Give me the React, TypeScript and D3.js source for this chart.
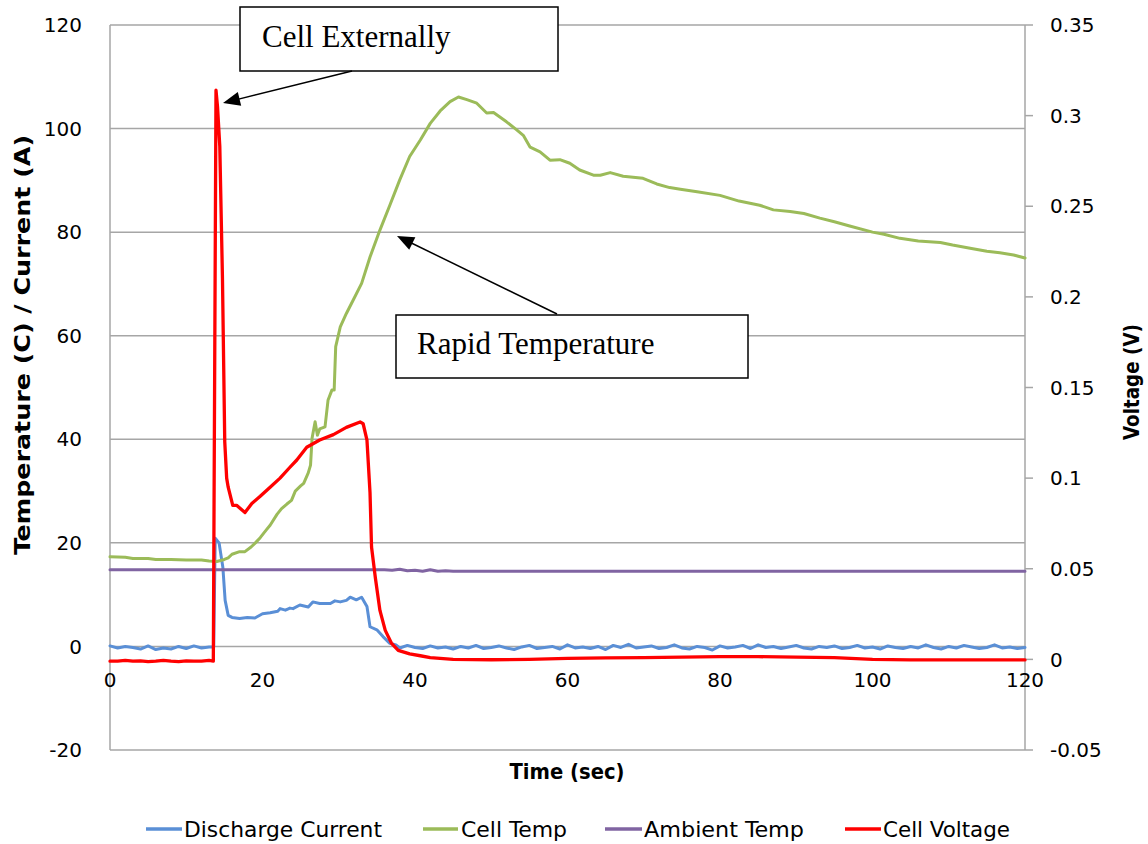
import React from "react";
import * as d3 from "d3";

// ---- Data ----
const xTicks = [0, 20, 40, 60, 80, 100, 120];
const leftTicks = [-20, 0, 20, 40, 60, 80, 100, 120];
const rightTicks = [-0.05, 0, 0.05, 0.1, 0.15, 0.2, 0.25, 0.3, 0.35];
const rightTickLabels = ["-0.05", "0", "0.05", "0.1", "0.15", "0.2", "0.25", "0.3", "0.35"];

const currentTime = [
  0, 1, 2, 3, 4, 5, 6, 7, 8, 9, 10, 11, 12, 13, 13.6, 13.8, 14.3, 14.8, 15.1, 15.5, 16, 17, 18, 19, 20,
  21, 22, 22.3, 23, 23.6, 24, 24.9, 26, 26.6, 27.5, 28.9, 29.5, 30.2, 31, 31.5, 32.3, 33, 33.7, 34.1,
  35, 35.8, 36.7, 37.5,
  38, 39, 40, 41, 42, 43, 44, 45, 46, 47, 48, 49, 50, 51, 52, 53, 54, 55, 56, 57, 58, 59, 60, 61, 62,
  63, 64, 65, 66, 67, 68, 69, 70, 71, 72, 73, 74, 75, 76, 77, 78, 79, 80, 81, 82, 83, 84, 85, 86, 87,
  88, 89, 90, 91, 92, 93, 94, 95, 96, 97, 98, 99, 100, 101, 102, 103, 104, 105, 106, 107, 108, 109,
  110, 111, 112, 113, 114, 115, 116, 117, 118, 119, 120,
];
const currentValues = [
  0.1, -0.3, 0.0, -0.2, -0.5, 0.1, -0.6, -0.3, -0.5, 0.0, -0.4, 0.1, -0.3, -0.1, -0.1, 20.9, 20.0, 15.3,
  8.9, 6.0, 5.6, 5.4, 5.6, 5.5, 6.3, 6.5, 6.8, 7.3, 7.0, 7.4, 7.3, 8.0, 7.6, 8.6, 8.3, 8.3, 8.8, 8.6,
  8.9, 9.5, 9.0, 9.5, 7.7, 3.8, 3.2, 1.9, 0.6, 0.3,
  -0.3, 0.2, -0.2, -0.4, 0.1, -0.3, -0.1, -0.5, 0.0, -0.3, 0.2, -0.4, -0.2, 0.1, -0.3, -0.6, -0.1, 0.2,
  -0.4, -0.2, 0.0, -0.5, 0.3, -0.3, -0.1, -0.4, 0.0, -0.6, 0.2, -0.2, 0.4, -0.3, -0.1, 0.1, -0.4, -0.2,
  0.3, -0.3, -0.5, 0.0, -0.2, -0.7, 0.1, -0.3, -0.1, 0.2, -0.4, 0.3, -0.2, 0.0, -0.4, -0.1, 0.2, -0.3,
  -0.5, 0.0, -0.2, 0.1, -0.4, -0.2, 0.2, -0.3, -0.1, -0.5, 0.1, -0.2, -0.4, 0.0, -0.3, 0.3, -0.2, -0.5,
  0.0, -0.3, 0.2, -0.1, -0.4, -0.2, 0.3, -0.3, -0.1, -0.4, -0.2,
];

const tempTime = [
  0, 2, 3, 5, 6, 8, 10, 12, 13, 14, 14.5, 15, 15.5, 16, 17, 17.7, 18.5, 19, 19.7, 20.5, 21, 21.9, 22.5,
  23.2, 23.8, 24.3, 25, 25.4, 26, 26.3, 26.5, 26.9, 27.2, 27.5, 28.2, 28.6, 29.1, 29.4, 29.6, 30.2, 31,
  31.9, 33, 34.1, 35.4, 36.7, 38, 39.3, 40.7, 42, 43.3, 44.6, 45.7, 46.8, 48.1, 49.4, 50.3, 52, 53.3,
  54.2, 55.1, 56.4, 57.7, 59, 60.3, 61.6, 63.4, 64.3, 65.6, 67.3, 68.6, 69.9, 71.7, 73.4, 74.8, 77, 80,
  82.5, 85.2, 87, 89.2, 91, 93.1, 95, 97, 100, 101.5, 103.6, 106, 108.9, 110.5, 112.8, 115, 116.7,
  118.5, 120,
];
const tempValues = [
  17.3, 17.2, 17.0, 17.0, 16.8, 16.8, 16.7, 16.7, 16.5, 16.4, 16.6, 16.8, 17.1, 17.8, 18.3, 18.3, 19.2,
  19.9, 21.0, 22.5, 23.4, 25.5, 26.6, 27.5, 28.2, 30.0, 31.0, 31.5, 33.5, 35.0, 40.2, 43.4, 40.8, 42.0,
  42.4, 47.6, 49.5, 49.5, 57.9, 61.7, 64.3, 66.9, 70.1, 75.2, 80.4, 85.2, 90.1, 94.6, 97.8, 101.0,
  103.4, 105.2, 106.1, 105.6, 104.9, 103.0, 103.1, 101.3, 99.8, 98.7, 96.4, 95.5, 93.9, 94.0, 93.3,
  92.0, 91.0, 91.0, 91.5, 90.8, 90.6, 90.4, 89.3, 88.6, 88.3, 87.8, 87.1, 86.0, 85.2, 84.3, 84.0, 83.6,
  82.7, 82.0, 81.2, 80.0, 79.6, 78.8, 78.3, 78.0, 77.5, 76.9, 76.3, 76.0, 75.6, 75.0,
];

const ambientTime = [0, 36, 37, 38, 39, 40, 41, 42, 43, 44, 45, 120];
const ambientValues = [14.8, 14.8, 14.7, 14.9, 14.6, 14.7, 14.5, 14.8, 14.5, 14.6, 14.5, 14.5];

const voltageTime = [
  0, 1, 2, 3, 4, 5, 6, 7, 8, 9, 10, 11, 12, 13, 13.55, 13.9, 14.1, 14.4, 14.75, 15.05, 15.3, 15.5,
  16.1, 16.6, 17.7, 18.6, 19.7, 21, 22.3, 23.6, 24.5, 25.8, 27.5, 29.3, 31, 32.8, 33.2, 33.7, 34.1,
  34.3, 34.8, 35.4, 36.1, 36.9, 37.8, 39.3, 40.7, 42, 45, 50, 55, 60, 65, 70, 75, 80, 85, 90, 95, 100,
  105, 110, 115, 120,
];
const voltageValues = [
  -0.001, -0.001, -0.0005, -0.001, -0.0008, -0.0012, -0.001, -0.0005, -0.001, -0.0012, -0.0008,
  -0.001, -0.001, -0.0006, -0.001, 0.314, 0.305, 0.283, 0.21, 0.12, 0.1, 0.095, 0.085, 0.085, 0.081,
  0.086, 0.09, 0.095, 0.1, 0.106, 0.11, 0.117, 0.121, 0.124, 0.128, 0.131, 0.13, 0.121, 0.092, 0.062,
  0.045, 0.027, 0.016, 0.009, 0.005, 0.003, 0.002, 0.001, 0.0, -0.0002, 0.0, 0.0005, 0.0008, 0.001,
  0.0012, 0.0015, 0.0015, 0.0012, 0.001, 0.0, -0.0003, -0.0003, -0.0003, -0.0003,
];

const legendNames = ["Discharge Current", "Cell Temp", "Ambient Temp", "Cell Voltage"];
const seriesColors = ["#5A8FD6", "#9BBB59", "#8064A2", "#FF0000"];

export default function App() {
  const W = 1148;
  const H = 844;
  const x = d3.scaleLinear().domain([0, 120]).range([110, 1025]);
  const yL = d3.scaleLinear().domain([-20, 120]).range([750, 25]);
  const yR = d3.scaleLinear().domain([-0.05, 0.35]).range([750, 25]);

  const lineL = d3
    .line<[number, number]>()
    .x((d) => x(d[0]))
    .y((d) => yL(d[1]));
  const lineR = d3
    .line<[number, number]>()
    .x((d) => x(d[0]))
    .y((d) => yR(d[1]));

  const zip = (a: number[], b: number[]) => a.map((t, i) => [t, b[i]] as [number, number]);

  const paths = [
    { d: lineL(zip(currentTime, currentValues)), c: seriesColors[0], w: 3 },
    { d: lineL(zip(tempTime, tempValues)), c: seriesColors[1], w: 3 },
    { d: lineL(zip(ambientTime, ambientValues)), c: seriesColors[2], w: 3 },
    { d: lineR(zip(voltageTime, voltageValues)), c: seriesColors[3], w: 3.3 },
  ];

  const tickFont = "'DejaVu Sans', Verdana, sans-serif";
  const condFont = "'DejaVu Sans Condensed', 'DejaVu Sans', sans-serif";
  const serif = "'Liberation Serif', 'Times New Roman', serif";

  const legendItems = [
    { x1: 146, x2: 182, tx: 184, tl: 198 },
    { x1: 423, x2: 458, tx: 461, tl: 106 },
    { x1: 605, x2: 642, tx: 644, tl: 160 },
    { x1: 845, x2: 881, tx: 883, tl: 127 },
  ];

  const arrowHead = (x1: number, y1: number, x2: number, y2: number) => {
    const ang = Math.atan2(y2 - y1, x2 - x1);
    const len = 17;
    const half = 7;
    const bx = x2 - len * Math.cos(ang);
    const by = y2 - len * Math.sin(ang);
    const px = -Math.sin(ang) * half;
    const py = Math.cos(ang) * half;
    return `M${x2},${y2}L${bx + px},${by + py}L${bx - px},${by - py}Z`;
  };
  const arrowLine = (x1: number, y1: number, x2: number, y2: number) => {
    const ang = Math.atan2(y2 - y1, x2 - x1);
    return { x1, y1, x2: x2 - 12 * Math.cos(ang), y2: y2 - 12 * Math.sin(ang) };
  };
  const a1 = arrowLine(352, 71, 223, 103);
  const a2 = arrowLine(557, 314, 397, 236);

  return (
    <svg
      width={W}
      height={H}
      style={{ position: "absolute", left: 0, top: 0, background: "#fff" }}
    >
      <rect x={0} y={0} width={W} height={H} fill="#fff" />
      {/* gridlines */}
      {leftTicks.map((t) => (
        <line key={"g" + t} x1={110} x2={1025} y1={yL(t)} y2={yL(t)} stroke="#A6A6A6" strokeWidth={1.5} />
      ))}
      {/* axis lines */}
      <line x1={110} x2={110} y1={25} y2={750} stroke="#A6A6A6" strokeWidth={1.5} />
      <line x1={1025} x2={1025} y1={25} y2={750} stroke="#A6A6A6" strokeWidth={1.5} />
      {rightTicks.map((t) => (
        <line key={"rt" + t} x1={1025} x2={1033} y1={yR(t)} y2={yR(t)} stroke="#A6A6A6" strokeWidth={1.5} />
      ))}
      {/* left tick labels */}
      {leftTicks.map((t) => (
        <text key={"lt" + t} x={82} y={yL(t)} dy="0.36em" textAnchor="end" fontFamily={tickFont} fontSize={20} fill="#000">
          {t}
        </text>
      ))}
      {/* right tick labels */}
      {rightTicks.map((t, i) => (
        <text key={"rl" + t} x={1050} y={yR(t)} dy="0.36em" textAnchor="start" fontFamily={tickFont} fontSize={20} fill="#000">
          {rightTickLabels[i]}
        </text>
      ))}
      {/* x tick labels */}
      {xTicks.map((t) => (
        <text key={"xt" + t} x={x(t)} y={680} dy="0.36em" textAnchor="middle" fontFamily={tickFont} fontSize={20} fill="#000">
          {t}
        </text>
      ))}
      {/* axis titles */}
      <text
        transform="translate(22,345) rotate(-90)"
        dy="0.36em"
        textAnchor="middle"
        fontFamily={condFont}
        fontWeight="bold"
        fontSize={21}
        textLength={420}
        lengthAdjust="spacingAndGlyphs"
      >
        Temperature (C) / Current (A)
      </text>
      <text
        x={567}
        y={771}
        dy="0.36em"
        textAnchor="middle"
        fontFamily={condFont}
        fontWeight="bold"
        fontSize={21}
        textLength={115}
        lengthAdjust="spacingAndGlyphs"
      >
        Time (sec)
      </text>
      <text
        transform="translate(1131,382) rotate(-90)"
        dy="0.36em"
        textAnchor="middle"
        fontFamily={condFont}
        fontWeight="bold"
        fontSize={21}
        textLength={116}
        lengthAdjust="spacingAndGlyphs"
      >
        Voltage (V)
      </text>
      {/* series */}
      {paths.map((p, i) => (
        <path key={"s" + i} d={p.d || ""} fill="none" stroke={p.c} strokeWidth={p.w} strokeLinejoin="round" strokeLinecap="round" />
      ))}
      {/* annotations */}
      <rect x={240} y={7} width={318} height={64} fill="#fff" stroke="#000" strokeWidth={1.5} />
      <text x={262} y={47} fontFamily={serif} fontSize={31} fill="#000">
        Cell Externally
      </text>
      <line {...a1} stroke="#000" strokeWidth={1.5} />
      <path d={arrowHead(352, 71, 223, 103)} fill="#000" />
      <rect x={396} y={315} width={352} height={63} fill="#fff" stroke="#000" strokeWidth={1.5} />
      <text x={417} y={354} fontFamily={serif} fontSize={31} fill="#000">
        Rapid Temperature
      </text>
      <line {...a2} stroke="#000" strokeWidth={1.5} />
      <path d={arrowHead(557, 314, 397, 236)} fill="#000" />
      {/* legend */}
      {legendItems.map((it, i) => (
        <g key={"lg" + i}>
          <line x1={it.x1} x2={it.x2} y1={829} y2={829} stroke={seriesColors[i]} strokeWidth={3.5} />
          <text
            x={it.tx}
            y={829}
            dy="0.36em"
            fontFamily={condFont}
            fontSize={21}
            textLength={it.tl}
            lengthAdjust="spacingAndGlyphs"
            fill="#000"
          >
            {legendNames[i]}
          </text>
        </g>
      ))}
    </svg>
  );
}
